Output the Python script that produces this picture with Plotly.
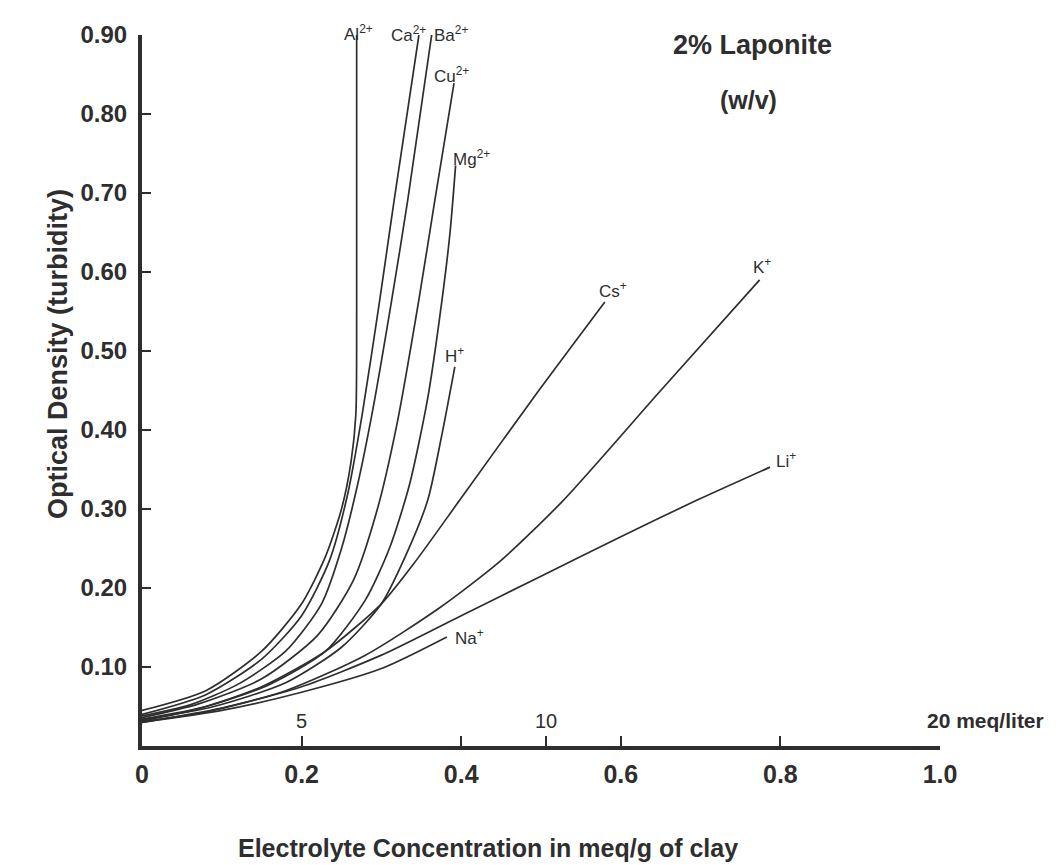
import plotly.graph_objects as go

# ---------------- data ----------------
al_x = [0, 0.08, 0.15, 0.20, 0.23, 0.25, 0.262, 0.268, 0.269, 0.269]
al_y = [0.045, 0.07, 0.12, 0.18, 0.24, 0.30, 0.36, 0.42, 0.55, 0.90]

ca_x = [0, 0.08, 0.15, 0.20, 0.235, 0.258, 0.276, 0.298, 0.316, 0.347]
ca_y = [0.040, 0.065, 0.11, 0.165, 0.235, 0.32, 0.42, 0.565, 0.691, 0.90]

ba_x = [0, 0.06, 0.12, 0.18, 0.225, 0.25, 0.27, 0.29, 0.313, 0.333, 0.363]
ba_y = [0.038, 0.052, 0.078, 0.12, 0.18, 0.25, 0.33, 0.43, 0.565, 0.691, 0.90]

cu_x = [0, 0.07, 0.15, 0.22, 0.265, 0.295, 0.32, 0.347, 0.367, 0.391]
cu_y = [0.036, 0.053, 0.085, 0.14, 0.21, 0.30, 0.41, 0.565, 0.691, 0.839]

mg_x = [0, 0.08, 0.16, 0.23, 0.28, 0.31, 0.335, 0.358, 0.376, 0.386, 0.393]
mg_y = [0.034, 0.05, 0.078, 0.12, 0.185, 0.25, 0.33, 0.44, 0.565, 0.65, 0.735]

h_x = [0, 0.09, 0.18, 0.25, 0.30, 0.33, 0.358, 0.375, 0.392]
h_y = [0.033, 0.05, 0.08, 0.125, 0.18, 0.24, 0.311, 0.39, 0.48]

cs_x = [0, 0.07, 0.15, 0.23, 0.30, 0.34, 0.398, 0.49, 0.58]
cs_y = [0.032, 0.047, 0.075, 0.12, 0.18, 0.23, 0.311, 0.44, 0.562]

k_x = [0, 0.08, 0.18, 0.28, 0.373, 0.45, 0.528, 0.65, 0.774]
k_y = [0.031, 0.043, 0.07, 0.115, 0.175, 0.235, 0.311, 0.45, 0.59]

li_x = [0, 0.10, 0.20, 0.30, 0.40, 0.50, 0.60, 0.695, 0.787]
li_y = [0.030, 0.048, 0.075, 0.115, 0.165, 0.215, 0.265, 0.311, 0.353]

na_x = [0, 0.10, 0.20, 0.30, 0.382]
na_y = [0.030, 0.045, 0.068, 0.098, 0.138]

series_names = ["Al<sup>2+</sup>", "Ca<sup>2+</sup>", "Ba<sup>2+</sup>", "Cu<sup>2+</sup>",
                "Mg<sup>2+</sup>", "H<sup>+</sup>", "Cs<sup>+</sup>", "K<sup>+</sup>",
                "Li<sup>+</sup>", "Na<sup>+</sup>"]

x_tick_vals = [0, 0.2, 0.4, 0.506, 0.6, 0.8, 1.0]
x_tick_text = ["0", "0.2", "0.4", "", "0.6", "0.8", "1.0"]
y_tick_vals = [0.1, 0.2, 0.3, 0.4, 0.5, 0.6, 0.7, 0.8, 0.9]
y_tick_text = ["0.10", "0.20", "0.30", "0.40", "0.50", "0.60", "0.70", "0.80", "0.90"]

# secondary (meq/liter) scale labels
meq_labels = ["5", "10", "20 meq/liter"]
meq_pos = [0.2, 0.506, 0.983]

# ---------------- styling ----------------
INK = "#2e2e2e"
FONT = "Liberation Sans, Arial, Helvetica, sans-serif"

# label placement: (xanchor, yanchor, xshift, yshift)
label_style = [
    ("center", "middle", 2, 2),
    ("right", "middle", 9, 1),
    ("left", "middle", 0, 1),
    ("center", "middle", -3, 8),
    ("left", "middle", -5, 7),
    ("center", "middle", 0, 12),
    ("center", "middle", 8, 12),
    ("center", "middle", 2, 14),
    ("left", "middle", 4, 7),
    ("left", "middle", 6, 0),
]

all_x = [al_x, ca_x, ba_x, cu_x, mg_x, h_x, cs_x, k_x, li_x, na_x]
all_y = [al_y, ca_y, ba_y, cu_y, mg_y, h_y, cs_y, k_y, li_y, na_y]

fig = go.Figure()
for xs, ys, name in zip(all_x, all_y, series_names):
    fig.add_trace(go.Scatter(
        x=xs, y=ys, mode="lines", name=name,
        line=dict(color=INK, width=1.7, shape="spline", smoothing=0.7),
        cliponaxis=False, showlegend=False, hoverinfo="skip",
    ))

annotations = []
for xs, ys, name, (xa, ya, dx, dy) in zip(all_x, all_y, series_names, label_style):
    annotations.append(dict(
        x=xs[-1], y=ys[-1], xref="x", yref="y", text=name, showarrow=False,
        xanchor=xa, yanchor=ya, xshift=dx, yshift=dy,
        font=dict(family=FONT, size=17, color=INK),
    ))

for lab, pos in zip(meq_labels, meq_pos):
    last = lab == meq_labels[-1]
    annotations.append(dict(
        x=pos, y=0, xref="x", yref="y", text=lab, showarrow=False,
        xanchor="left" if last else "center",
        yanchor="bottom", yshift=12, xshift=-1 if last else 0,
        font=dict(family=FONT, size=21 if last else 20, color=INK,
                  weight="bold" if last else "normal"),
    ))

W, H = 1060, 865
L, R, T, B = 142, 120, 35, 119
pw, ph = W - L - R, H - T - B


def px_ann(xp, yp, text, size, angle=0):
    return dict(x=(xp - L) / pw, y=((H - yp) - B) / ph, xref="paper", yref="paper",
                xanchor="center", yanchor="middle", text=text, textangle=angle,
                showarrow=False,
                font=dict(family=FONT, size=size, color=INK, weight="bold"))


annotations += [
    px_ann(752, 45, "2% Laponite", 27),
    px_ann(748, 100, "(w/v)", 25),
    px_ann(488, 848, "Electrolyte Concentration in meq/g of clay", 25),
    px_ann(58, 354, "Optical Density (turbidity)", 27, -90),
]

fig.update_layout(
    width=W, height=H,
    margin=dict(l=L, r=R, t=T, b=B, pad=0),
    paper_bgcolor="white", plot_bgcolor="white",
    annotations=annotations,
    xaxis=dict(
        range=[0, 1.0], showgrid=False, zeroline=False,
        showline=True, linecolor=INK, linewidth=4,
        tickmode="array", tickvals=x_tick_vals, ticktext=x_tick_text,
        ticks="inside", ticklen=10, tickwidth=2, tickcolor=INK,
        ticklabelstandoff=3,
        tickfont=dict(family=FONT, size=25, color=INK, weight="bold"),
    ),
    yaxis=dict(
        range=[0, 0.9], showgrid=False, zeroline=False,
        showline=True, linecolor=INK, linewidth=4,
        tickmode="array", tickvals=y_tick_vals, ticktext=y_tick_text,
        ticks="inside", ticklen=9, tickwidth=2, tickcolor=INK,
        ticklabelstandoff=6,
        tickfont=dict(family=FONT, size=24, color=INK, weight="bold"),
    ),
)

fig.write_html("out.html")
